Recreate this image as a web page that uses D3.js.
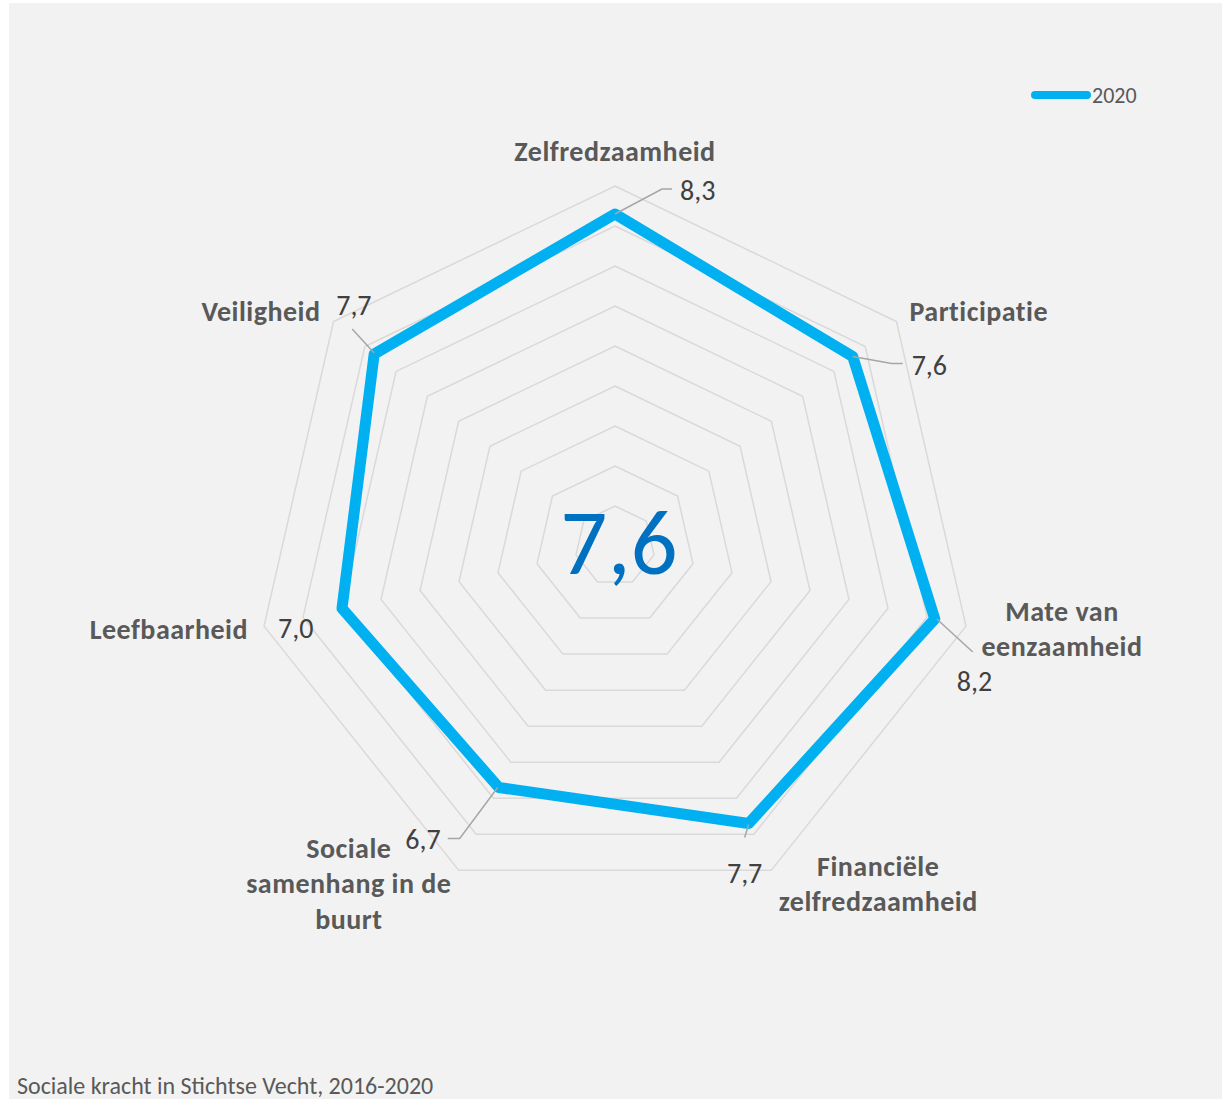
<!DOCTYPE html>
<html>
<head>
<meta charset="utf-8">
<script src="https://cdn.jsdelivr.net/npm/d3@7"></script>
<style>
  body { margin: 0; background: #fff; }
  svg { display: block; font-family: Carlito, Calibri, Lato, sans-serif; }
</style>
</head>
<body>
<div id="chart"></div>
<script>
// data
const categories = [
  ["Zelfredzaamheid"],
  ["Participatie"],
  ["Mate van", "eenzaamheid"],
  ["Financiële", "zelfredzaamheid"],
  ["Sociale", "samenhang in de", "buurt"],
  ["Leefbaarheid"],
  ["Veiligheid"]
];
const values2020 = [8.3, 7.6, 8.2, 7.7, 6.7, 7.0, 7.7];
const seriesName = "2020";
const gridLevels = [1, 2, 3, 4, 5, 6, 7, 8, 9];
const averageLabel = "7,6";
const caption = "Sociale kracht in Stichtse Vecht, 2016-2020";

// layout of the category labels, relative to the outer grid vertex
const catLayout = [
  { anchor: "middle", dx: 0, dy: -35 },
  { anchor: "start", dx: 13, dy: -10 },
  { anchor: "middle", dx: 96, dy: -15 },
  { anchor: "middle", dx: 107, dy: -4 },
  { anchor: "middle", dx: -110, dy: -22 },
  { anchor: "end", dx: -16, dy: 3 },
  { anchor: "end", dx: -13, dy: -10 }
];
// data label layout, relative to the data vertex
const valLayout = [
  { anchor: "start", dx: 65, dy: -24, leader: [[0, 0], [47, -25], [57, -25]] },
  { anchor: "start", dx: 59, dy: 9, leader: [[0, 0], [39, 7], [50, 7]] },
  { anchor: "start", dx: 22, dy: 63, leader: [[2, 0], [38, 33]] },
  { anchor: "middle", dx: -4, dy: 50, leader: [[0, 1], [-4, 14]] },
  { anchor: "end", dx: -58, dy: 52, leader: [[-1, 0], [-39, 51], [-51, 51]] },
  { anchor: "start", dx: -64, dy: 20, leader: null },
  { anchor: "start", dx: -38, dy: -48, leader: [[0, -1], [-22, -25]] }
];

const width = 1222, height = 1099;
const cx = 615, cy = 546;

const svg = d3.select("#chart").append("svg")
  .attr("width", width)
  .attr("height", height);

svg.append("rect")
  .attr("x", 9).attr("y", 3)
  .attr("width", width - 9).attr("height", height - 3)
  .attr("fill", "#f2f2f2");

const n = categories.length;
const angle = d3.scaleLinear().domain([0, n]).range([0, 2 * Math.PI]);
const r = d3.scaleLinear().domain([0, 9]).range([0, 360]);

function pt(i, v) {
  const a = angle(i);
  return [cx + r(v) * Math.sin(a), cy - r(v) * Math.cos(a)];
}

const radial = d3.lineRadial()
  .angle((d, i) => angle(i))
  .radius(d => r(d))
  .curve(d3.curveLinearClosed);

const g = svg.append("g").attr("transform", `translate(${cx},${cy})`);

// grid rings
g.selectAll("path.grid")
  .data(gridLevels)
  .join("path")
  .attr("class", "grid")
  .attr("d", lv => radial(d3.range(n).map(() => lv)))
  .attr("fill", "none")
  .attr("stroke", "#d9d9d9")
  .attr("stroke-width", 1.5);

// series
g.append("path")
  .attr("d", radial(values2020))
  .attr("fill", "none")
  .attr("stroke", "#00b0f0")
  .attr("stroke-width", 11)
  .attr("stroke-linejoin", "round");

// center average
svg.append("text")
  .attr("x", cx + 4).attr("y", cy - 4)
  .attr("text-anchor", "middle")
  .attr("dominant-baseline", "central")
  .attr("fill", "#0070c0")
  .style("font-size", "93px")
  .text(averageLabel);

// category labels
categories.forEach((lines, i) => {
  const [x, y] = pt(i, 9);
  const L = catLayout[i];
  const t = svg.append("text")
    .attr("text-anchor", L.anchor)
    .attr("fill", "#595959")
    .style("font-size", "28px")
    .style("letter-spacing", "0.5px")
    .style("font-weight", "bold");
  lines.forEach((s, k) => {
    t.append("tspan")
      .attr("x", x + L.dx)
      .attr("y", y + L.dy + k * 35.5)
      .attr("dominant-baseline", "central")
      .text(s);
  });
});

// data labels with leader lines
const fmt = v => d3.format(".1f")(v).replace(".", ",");
values2020.forEach((v, i) => {
  const [x, y] = pt(i, v);
  const L = valLayout[i];
  if (L.leader) {
    svg.append("path")
      .attr("d", d3.line()(L.leader.map(p => [x + p[0], y + p[1]])))
      .attr("fill", "none")
      .attr("stroke", "#a6a6a6")
      .attr("stroke-width", 1.5);
  }
  svg.append("text")
    .attr("x", x + L.dx).attr("y", y + L.dy)
    .attr("text-anchor", L.anchor)
    .attr("dominant-baseline", "central")
    .attr("fill", "#404040")
    .style("font-size", "28px")
    .text(fmt(v));
});

// legend
const lg = svg.append("g").attr("transform", "translate(1035,95)");
lg.append("line")
  .attr("x1", 0).attr("x2", 52)
  .attr("stroke", "#00b0f0")
  .attr("stroke-width", 8)
  .attr("stroke-linecap", "round");
lg.append("text")
  .attr("x", 57).attr("y", 0)
  .attr("dominant-baseline", "central")
  .attr("fill", "#595959")
  .style("font-size", "22px")
  .text(seriesName);

// caption
svg.append("text")
  .attr("x", 17).attr("y", 1085)
  .attr("dominant-baseline", "central")
  .attr("fill", "#595959")
  .style("font-size", "24px")
  .text(caption);
</script>
</body>
</html>
